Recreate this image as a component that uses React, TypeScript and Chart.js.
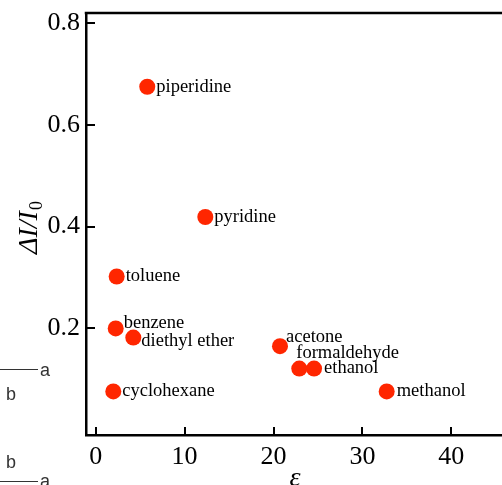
import React, { useEffect, useRef } from 'react';
import { Chart, registerables } from 'chart.js';

Chart.register(...registerables);

// ---- data ----
const solvents = ['cyclohexane', 'benzene', 'toluene', 'diethyl ether', 'piperidine', 'pyridine', 'acetone', 'formaldehyde', 'ethanol', 'methanol'];
const epsilon = [1.98, 2.25, 2.36, 4.23, 5.8, 12.33, 20.73, 22.9, 24.56, 32.73];
const deltaI = [0.076, 0.2, 0.302, 0.182, 0.675, 0.419, 0.165, 0.121, 0.121, 0.076];
const xTicks = [0, 10, 20, 30, 40];
const yTicks = [0.2, 0.4, 0.6, 0.8];

// label placement (dx, dy from the point centre)
const labelOffsets: [number, number][] = [
  [9, 0], [8, -5], [9, 0], [8, 4], [9, 0], [9, 0], [6, -9], [-3, -15], [10, 0], [10, 0],
];

const SERIF = '"Liberation Serif", "Times New Roman", Times, serif';
const SANS = '"Liberation Sans", Arial, Helvetica, sans-serif';
const DOT = 'rgb(255, 38, 0)';

const overlay = {
  id: 'overlay',
  afterDraw(chart: any) {
    const ctx = chart.ctx as CanvasRenderingContext2D;
    const { left, right, top, bottom } = chart.chartArea;
    const xs = chart.scales.x;
    const ys = chart.scales.y;
    ctx.save();
    ctx.strokeStyle = '#000';
    // top frame line
    ctx.lineWidth = 2.5;
    ctx.beginPath();
    ctx.moveTo(left - 1.25, top);
    ctx.lineTo(right, top);
    ctx.stroke();
    // inward ticks
    ctx.lineWidth = 2;
    xTicks.forEach((v) => {
      const p = Math.round(xs.getPixelForValue(v));
      ctx.beginPath();
      ctx.moveTo(p, bottom);
      ctx.lineTo(p, bottom - 8);
      ctx.stroke();
    });
    yTicks.forEach((v) => {
      const p = Math.round(ys.getPixelForValue(v));
      ctx.beginPath();
      ctx.moveTo(left, p);
      ctx.lineTo(left + 9, p);
      ctx.stroke();
    });
    // point labels
    const meta = chart.getDatasetMeta(0);
    ctx.font = `18.5px ${SERIF}`;
    ctx.fillStyle = '#000';
    ctx.textBaseline = 'middle';
    ctx.textAlign = 'left';
    meta.data.forEach((pt: any, i: number) => {
      const [dx, dy] = labelOffsets[i];
      ctx.fillText(solvents[i], pt.x + dx, pt.y + dy);
    });
    // x title
    ctx.font = `italic 28px ${SERIF}`;
    ctx.textAlign = 'center';
    ctx.textBaseline = 'alphabetic';
    ctx.fillText('ε', (left + right) / 2 + 1, 486);
    // y title (rotated) with subscript
    const cy = (top + bottom) / 2 + 4;
    ctx.translate(37, cy);
    ctx.rotate(-Math.PI / 2);
    ctx.textAlign = 'left';
    ctx.font = `italic 28px ${SERIF}`;
    const main = 'ΔI/I';
    const wMain = ctx.measureText(main).width;
    ctx.font = `18px ${SERIF}`;
    const wSub = ctx.measureText('0').width;
    const start = -(wMain + wSub) / 2;
    ctx.font = `italic 28px ${SERIF}`;
    ctx.fillText(main, start, 0);
    ctx.font = `18px ${SERIF}`;
    ctx.fillText('0', start + wMain + 1, 5);
    ctx.restore();
  },
};

export default function App() {
  const ref = useRef<HTMLCanvasElement | null>(null);

  useEffect(() => {
    if (!ref.current) return;
    const chart = new Chart(ref.current, {
      type: 'scatter',
      data: {
        datasets: [
          {
            label: 'ΔI/I0',
            data: epsilon.map((x, i) => ({ x, y: deltaI[i] })),
            backgroundColor: DOT,
            borderWidth: 0,
            pointRadius: 8,
            pointHoverRadius: 8,
          },
        ],
      },
      options: {
        responsive: false,
        animation: false,
        devicePixelRatio: 1,
        events: [],
        layout: { autoPadding: false, padding: { top: 13, right: 0, left: 0, bottom: 0 } },
        plugins: { legend: { display: false }, tooltip: { enabled: false } },
        scales: {
          x: {
            type: 'linear',
            min: -1.09,
            max: 45.7,
            afterFit: (s: any) => { s.height = 50; s.paddingLeft = 0; s.paddingRight = 0; },
            afterBuildTicks: (s: any) => { s.ticks = xTicks.map((v) => ({ value: v })); },
            grid: { display: true, drawOnChartArea: false, drawTicks: false },
            border: { display: true, color: '#000', width: 2.5 },
            ticks: {
              padding: 7,
              color: '#000',
              font: { family: SERIF, size: 26 },
              maxRotation: 0,
              callback: (v: any) => String(v),
            },
          },
          y: {
            type: 'linear',
            min: -0.0096,
            max: 0.82,
            afterFit: (s: any) => { s.width = 86; s.paddingTop = 0; s.paddingBottom = 0; },
            afterBuildTicks: (s: any) => { s.ticks = yTicks.map((v) => ({ value: v })); },
            grid: { display: true, drawOnChartArea: false, drawTicks: false },
            border: { display: true, color: '#000', width: 2.5 },
            ticks: {
              padding: 6,
              color: '#000',
              font: { family: SERIF, size: 26 },
              callback: (v: any) => Number(v).toFixed(1),
            },
          },
        },
      },
      plugins: [overlay],
    });
    return () => chart.destroy();
  }, []);

  const txt: React.CSSProperties = {
    position: 'absolute',
    fontFamily: SANS,
    fontSize: 18,
    lineHeight: '18px',
    color: '#333',
    margin: 0,
  };
  const line: React.CSSProperties = {
    position: 'absolute',
    left: 0,
    width: 38,
    height: 0,
    borderTop: '1px solid #333',
  };

  return (
    <div style={{ position: 'absolute', left: 0, top: 0, width: 502, height: 485, overflow: 'hidden', background: '#fff' }}>
      <canvas ref={ref} width={502} height={485} style={{ display: 'block', width: 502, height: 485 }} />
      <div style={{ ...line, top: 369 }} />
      <span style={{ ...txt, left: 40, top: 361 }}>a</span>
      <span style={{ ...txt, left: 6, top: 385 }}>b</span>
      <span style={{ ...txt, left: 6, top: 453 }}>b</span>
      <div style={{ ...line, top: 481 }} />
      <span style={{ ...txt, left: 40, top: 472 }}>a</span>
    </div>
  );
}
